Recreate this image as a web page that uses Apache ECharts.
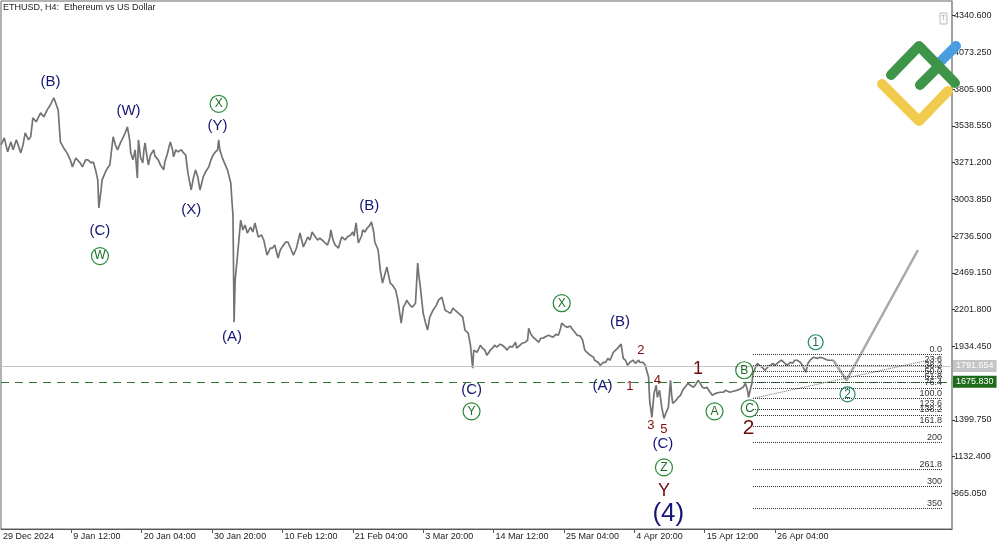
<!DOCTYPE html>
<html><head><meta charset="utf-8">
<style>html,body{margin:0;padding:0;background:#fff}#c{width:1000px;height:545px}</style>
<script src="https://cdn.jsdelivr.net/npm/echarts@6.0.0/dist/echarts.min.js"></script>
</head><body><div id="c"></div><script>
// ---- data (bar index = H4 bars since 29 Dec 2024 20:00) ----
const xTickBars = [0,64,128,192,256,320,384,448,512,576,640,704];
const xTickLabels = ['29 Dec 2024','9 Jan 12:00','20 Jan 04:00','30 Jan 20:00','10 Feb 12:00','21 Feb 04:00','3 Mar 20:00','14 Mar 12:00','25 Mar 04:00','4 Apr 20:00','15 Apr 12:00','26 Apr 04:00'];
const yTickValues = [4340.6,4073.25,3805.9,3538.55,3271.2,3003.85,2736.5,2469.15,2201.8,1934.45,1399.75,1132.4,865.05];
const ethPath = [[0,3400],[3,3451],[6,3349],[9,3422],[11,3364],[14,3437],[18,3342],[20,3400],[22,3488],[25,3437],[27,3459],[29,3597],[32,3568],[36,3633],[39,3604],[42,3655],[45,3692],[48,3743],[50,3699],[52,3655],[54,3422],[57,3378],[60,3342],[63,3291],[65,3240],[68,3305],[69,3313],[72,3269],[74,3240],[77,3291],[79,3291],[82,3269],[84,3276],[86,3218],[88,3145],[89,2941],[91,3072],[92,3145],[95,3203],[97,3233],[99,3254],[102,3459],[104,3400],[106,3364],[109,3422],[110,3437],[113,3488],[115,3531],[117,3437],[118,3342],[120,3291],[122,3364],[124,3160],[125,3437],[127,3305],[129,3269],[130,3364],[131,3415],[133,3305],[134,3254],[136,3327],[139,3364],[140,3320],[143,3291],[145,3254],[148,3218],[149,3276],[151,3327],[154,3422],[156,3364],[157,3313],[159,3364],[161,3349],[164,3364],[166,3342],[168,3327],[169,3313],[170,3196],[173,3072],[175,3160],[177,3218],[179,3167],[181,3072],[184,3167],[186,3203],[189,3240],[191,3291],[193,3327],[195,3349],[197,3364],[198,3437],[199,3364],[201,3313],[204,3254],[206,3218],[209,3123],[210,2999],[211,2890],[212,2110],[213,2416],[215,2584],[218,2853],[220,2781],[222,2817],[224,2759],[227,2802],[229,2766],[231,2832],[234,2730],[237,2744],[239,2708],[240,2671],[242,2598],[245,2649],[247,2649],[249,2671],[252,2576],[254,2635],[257,2671],[259,2693],[261,2693],[264,2635],[266,2598],[268,2635],[269,2657],[272,2759],[275,2657],[277,2693],[279,2730],[281,2708],[283,2766],[286,2730],[288,2708],[290,2722],[292,2708],[295,2686],[297,2671],[299,2722],[300,2781],[302,2708],[304,2671],[307,2649],[309,2708],[310,2730],[313,2708],[315,2730],[318,2744],[320,2766],[321,2737],[323,2832],[325,2686],[328,2737],[329,2781],[331,2766],[333,2795],[335,2810],[337,2839],[339,2766],[340,2693],[343,2635],[345,2489],[347,2394],[349,2453],[351,2511],[354,2394],[356,2380],[359,2343],[361,2270],[364,2103],[366,2219],[368,2248],[369,2270],[372,2234],[374,2219],[377,2248],[379,2540],[380,2453],[381,2394],[384,2175],[386,2110],[388,2052],[390,2146],[393,2197],[396,2234],[398,2270],[401,2292],[404,2197],[407,2183],[409,2175],[411,2212],[413,2197],[416,2175],[420,2146],[422,2052],[425,2030],[427,1942],[429,1775],[430,1906],[433,1891],[436,1942],[438,1921],[440,1906],[442,1869],[445,1906],[447,1921],[449,1942],[451,1928],[454,1950],[456,1942],[459,1921],[460,1906],[463,1935],[465,1928],[468,1964],[469,1921],[472,1942],[474,1957],[477,1964],[479,1979],[480,2066],[482,2022],[484,2001],[487,1979],[489,1964],[491,1993],[493,1993],[496,2008],[498,2015],[500,2008],[502,2001],[505,2022],[507,2015],[509,2066],[510,2103],[513,2081],[515,2074],[518,2081],[519,2066],[522,2037],[524,2015],[527,2008],[529,1979],[531,1906],[533,1891],[536,1869],[539,1855],[540,1833],[543,1818],[545,1796],[548,1818],[550,1818],[552,1847],[554,1833],[557,1891],[559,1906],[561,1921],[564,1950],[565,1957],[566,1847],[568,1833],[570,1796],[572,1818],[575,1833],[577,1811],[580,1833],[581,1818],[584,1818],[586,1796],[589,1709],[590,1541],[592,1417],[594,1592],[596,1651],[597,1563],[599,1614],[601,1490],[603,1410],[605,1454],[607,1490],[609,1687],[610,1578],[611,1519],[614,1541],[616,1563],[618,1578],[620,1614],[622,1636],[625,1665],[627,1651],[630,1636],[632,1658],[634,1687],[636,1665],[638,1636],[640,1629],[642,1636],[645,1600],[647,1578],[650,1592],[651,1592],[654,1600],[657,1600],[659,1614],[663,1600],[666,1607],[669,1614],[672,1622],[675,1636],[677,1665],[679,1614],[680,1563],[681,1600],[683,1665],[684,1738],[686,1775],[688,1811],[690,1796],[693,1775],[695,1760],[698,1789],[700,1796],[702,1811],[704,1796],[707,1818],[710,1833],[713,1811],[715,1796],[718,1818],[720,1811],[722,1833],[724,1833],[727,1818],[729,1796],[730,1775],[732,1746],[734,1811],[736,1833],[739,1855],[740,1862],[743,1847],[745,1855],[748,1847],[750,1840],[752,1833],[755,1833],[757,1833]];
const projPath = [[757,1833],[769,1687],[834,2635]];
const priceLines = [1791.654, 1675.830];
const fibHigh = 1874, fibLow = 1554;
const fibRange = [684, 856];
const fibLevels = [0,23.6,38.2,50,61.8,76.4,100,123.6,138.2,161.8,200,261.8,300,350];
const fibLabels = ['0.0','23.6','38.2','50.0','61.8','76.4','100.0','123.6','138.2','161.8','200','261.8','300','350'];
const trendLine = [[684,1556],[856,1855]];
const navyLabels = [['(B)',45,3860],['(W)',116,3648],['(Y)',197,3539],['(X)',173,2926],['(C)',90,2773],['(A)',210,2001],['(B)',335,2956],['(C)',428,1621],['(B)',563,2110],['(A)',547,1643],['(C)',602,1221]];
const bigNavyLabels = [['(4)',607,715]];
const greenCircles = [['W',90,2591],['X',198,3699],['X',510,2248],['Y',428,1461],['Z',603,1053],['A',649,1461],['B',676,1760],['C',681,1483]];
const tealCircles = [['1',741,1964],['2',770,1585]];
const redSmall = [['2',582,1906],['1',572,1643],['4',597,1687],['3',591,1359],['5',603,1330]];
const redBig = [['1',634,1767],['2',680,1337],['Y',603,878]];
const redBigSizes = [18,21,18];

const FONT = 'Liberation Sans, Arial, sans-serif';
const chart = echarts.init(document.getElementById('c'), null, {renderer:'canvas'});

function textSeries(items, color, size){
  return {type:'scatter', silent:true, z:6, symbol:'circle', symbolSize:1,
    itemStyle:{color:'rgba(0,0,0,0)', opacity:1},
    data: items.map((d,i)=>({value:[d[1],d[2]], name:d[0],
      label:{fontSize: Array.isArray(size)? size[i] : size}})),
    label:{show:true, position:'inside', formatter:p=>p.name, color:color, opacity:1, fontFamily:FONT}};
}
function circleSeries(items, color, textColor, sz, fs){
  return {type:'scatter', silent:true, z:6, symbol:'circle', symbolSize:sz,
    itemStyle:{color:'rgba(255,255,255,0)', borderColor:color, borderWidth:1.2, opacity:1},
    data: items.map(d=>({value:[d[1],d[2]], name:d[0]})),
    label:{show:true, position:'inside', formatter:p=>p.name, color:textColor, opacity:1, fontSize:fs, fontFamily:FONT}};
}

const fibStyle = {color:'#333', width:1, type:'dotted'};
const markData = [
  {yAxis: priceLines[0], lineStyle:{color:'#c4c4c4', width:1, type:'solid'},
   label:{show:true, position:'end', distance:1, formatter:priceLines[0].toFixed(3), color:'#fff', backgroundColor:'#c4c4c4', padding:[2,3,1,3], fontSize:9, fontFamily:FONT}},
  {yAxis: priceLines[1], lineStyle:{color:'#2f7a2f', width:1, type:[8,6]},
   label:{show:true, position:'end', distance:1, formatter:priceLines[1].toFixed(3), color:'#fff', backgroundColor:'#1b6b1b', padding:[2,3,1,3], fontSize:9, fontFamily:FONT}}
];
fibLevels.forEach((lv,i)=>{
  const p = fibHigh - lv/100*(fibHigh-fibLow);
  const lab = {show:true, position:'insideEndTop', distance:[0,1], formatter:fibLabels[i], color:'#333', fontSize:9, fontFamily:FONT};
  markData.push([{coord:[fibRange[0],p], lineStyle:fibStyle, label:lab},{coord:[fibRange[1],p], lineStyle:fibStyle, label:lab}]);
});
const trStyle = {color:'#666', width:1, type:'dotted'};
markData.push([{coord:trendLine[0], lineStyle:trStyle, label:{show:false}},{coord:trendLine[1], lineStyle:trStyle, label:{show:false}}]);

const option = {
  animation:false,
  backgroundColor:'#fff',
  title:{text:'ETHUSD, H4:  Ethereum vs US Dollar', left:3, top:3, padding:0,
    textStyle:{fontSize:9, fontWeight:'normal', color:'#222', fontFamily:FONT}},
  grid:{left:1, right:48, top:1, bottom:16, show:true, borderColor:'#666', borderWidth:1},
  xAxis:{type:'value', min:0, max:865,
    splitLine:{show:false},
    axisLine:{show:true, onZero:false, lineStyle:{color:'#555'}},
    axisTick:{show:true, customValues:xTickBars.slice(1), length:4, lineStyle:{color:'#555'}},
    axisLabel:{customValues:xTickBars, formatter:v=>xTickLabels[xTickBars.indexOf(v)], align:'left', margin:3, padding:[0,0,0,2], fontSize:9, color:'#222', fontFamily:FONT, showMinLabel:true, showMaxLabel:true}},
  yAxis:{type:'value', position:'right', min:605, max:4447,
    splitLine:{show:false},
    axisLine:{show:true, onZero:false, lineStyle:{color:'#9a9a9a', width:1.5}},
    axisTick:{show:true, customValues:yTickValues, length:3, lineStyle:{color:'#333'}},
    axisLabel:{customValues:yTickValues, formatter:v=>v.toFixed(3), margin:2, fontSize:9, color:'#222', fontFamily:FONT, showMinLabel:true, showMaxLabel:true}},
  series:[
    {type:'line', data:ethPath, showSymbol:false, silent:true, z:3,
     lineStyle:{color:'#737373', width:1.7},
     markLine:{silent:true, symbol:['none','none'], animation:false, data:markData}},
    {type:'line', data:projPath, showSymbol:false, silent:true, z:3,
     lineStyle:{color:'#a8a8a8', width:2.5}},
    textSeries(navyLabels, '#151575', 15),
    textSeries(bigNavyLabels, '#151575', 26),
    textSeries(redSmall, '#7e0c0c', 13),
    textSeries(redBig, '#700a0a', redBigSizes),
    circleSeries(greenCircles, '#2a8a3a', '#1a6e28', 17, 12),
    circleSeries(tealCircles, '#23886a', '#1a7050', 15, 12)
  ],
  graphic:[
    {type:'rect', z:50, shape:{x:940, y:13, width:7, height:11}, style:{fill:'#fafafa', stroke:'#bbb', lineWidth:1}},
    {type:'text', z:51, x:943.5, y:18.5, style:{text:'T', fontSize:7, fill:'#aaa', align:'center', verticalAlign:'middle', fontFamily:FONT}},
    {type:'polyline', z:100, shape:{points:[[882,84],[919,121],[948,91]]}, style:{stroke:'#f1cb4d', fill:null, lineWidth:10, lineCap:'round', lineJoin:'round'}},
    {type:'line', z:100, shape:{x1:940, y1:62, x2:956, y2:46}, style:{stroke:'#4a9de0', lineWidth:10, lineCap:'round'}},
    {type:'polyline', z:101, shape:{points:[[891,75],[919,46],[955,83]]}, style:{stroke:'#3e9449', fill:null, lineWidth:10, lineCap:'round', lineJoin:'round'}},
    {type:'line', z:101, shape:{x1:920, y1:85, x2:939, y2:66}, style:{stroke:'#3e9449', lineWidth:10, lineCap:'round'}}
  ]
};
chart.setOption(option);
</script></body></html>
